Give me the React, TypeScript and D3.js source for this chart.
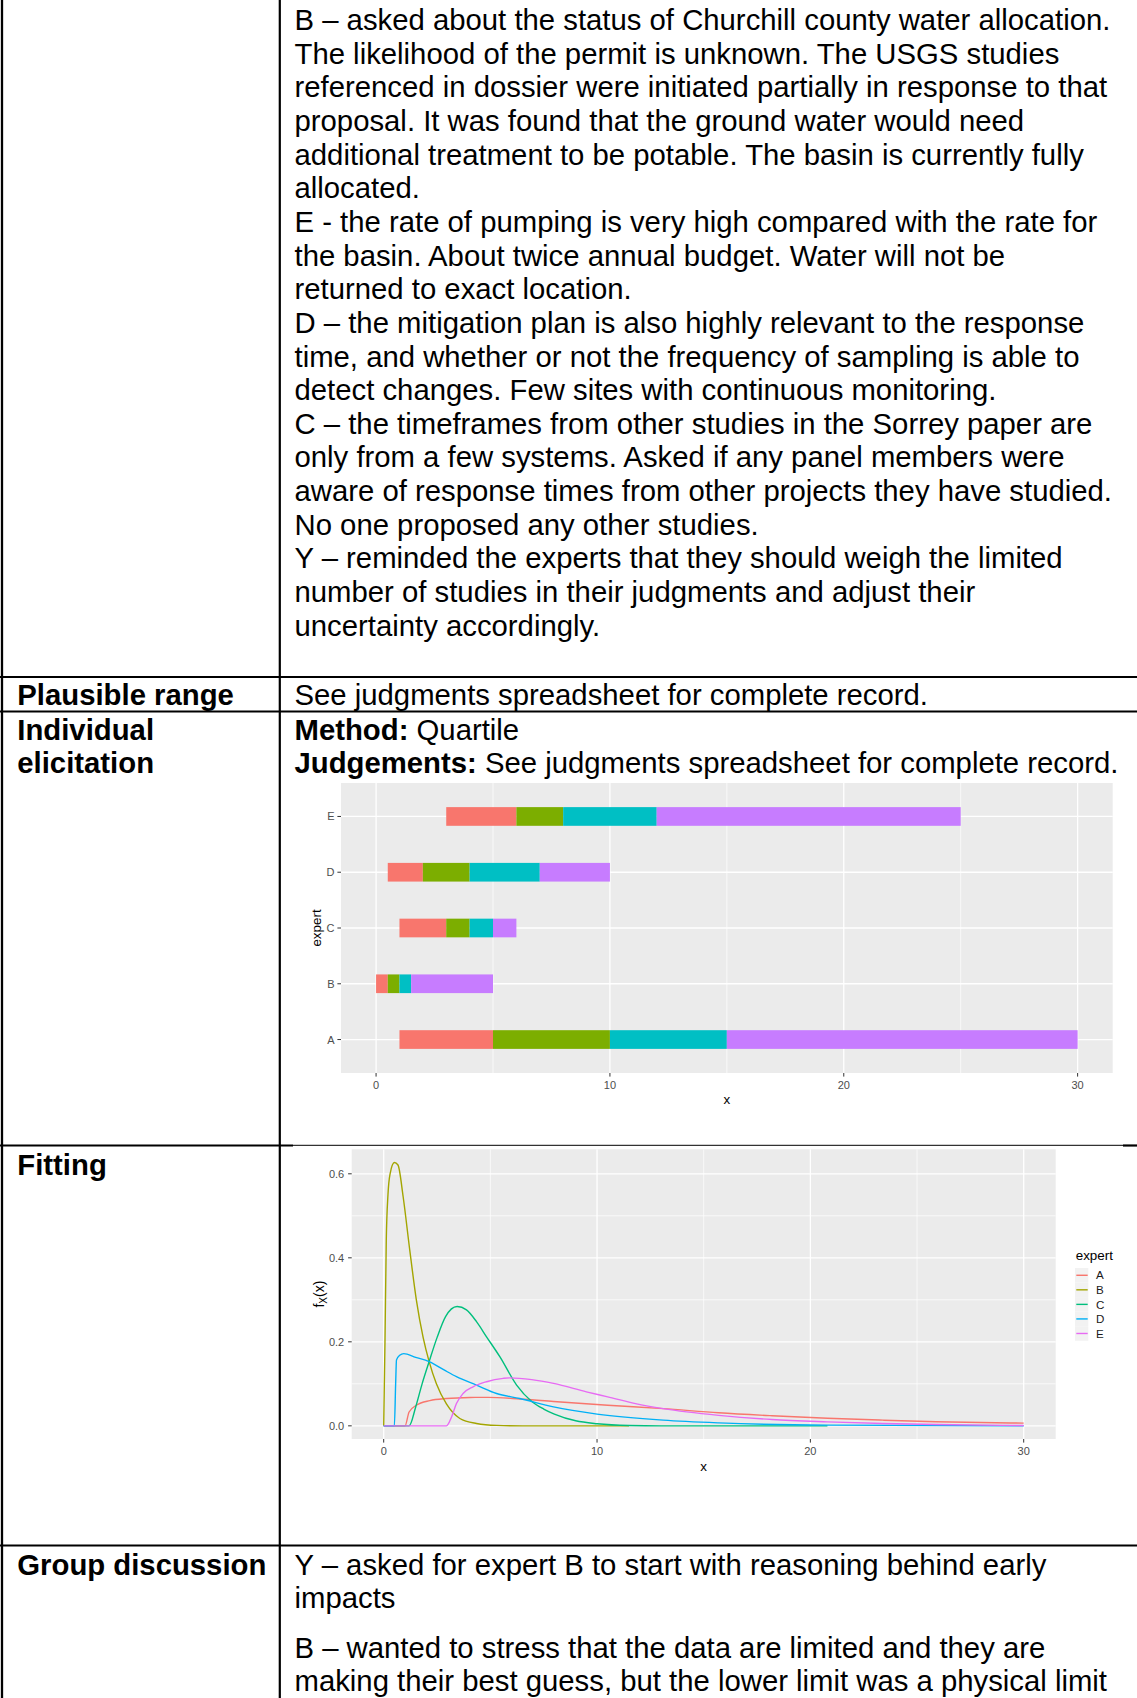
import React from "react";
import * as d3 from "d3";

// ---- Elicitation judgements (quartile method), one entry per expert ----
const experts = ["A", "B", "C", "D", "E"];
const lowerLimit = [1, 0, 1, 0.5, 3];
const lowerQuartile = [5, 0.5, 3, 2, 6];
const medianValue = [10, 1, 4, 4, 8];
const upperQuartile = [15, 1.5, 5, 7, 12];
const upperLimit = [30, 5, 6, 10, 25];

const intervalColors = ["#F8766D", "#7CAE00", "#00BFC4", "#C77CFF"];
const expertColors = ["#F8766D", "#A3A500", "#00BF7D", "#00B0F6", "#E76BF3"];

const xTicks = [0, 10, 20, 30];
const xMinorTicks = [5, 15, 25];
const densityTicks = [0, 0.2, 0.4, 0.6];
const densityMinorTicks = [0.1, 0.3, 0.5];

// ---- Fitted densities f_X(x), sampled as [x, density] ----
const densityA: [number, number][] = [
  [0, 0], [1.0, 0], [1.19, 0.033], [1.53, 0.049], [2.16, 0.06], [2.94, 0.065],
  [4.04, 0.0675], [4.9, 0.0678], [6.38, 0.064], [7.96, 0.058], [10.5, 0.049],
  [13.1, 0.041], [15.7, 0.031], [18.2, 0.024], [20.8, 0.018], [23.4, 0.0135],
  [25.9, 0.0098], [30, 0.0064],
];
const densityB: [number, number][] = [
  [0, 0], [0.06, 0.2], [0.12, 0.44], [0.2, 0.55], [0.3, 0.6], [0.5, 0.627],
  [0.67, 0.621], [0.91, 0.546], [1.22, 0.419], [1.53, 0.3], [1.85, 0.21],
  [2.13, 0.153], [2.47, 0.1], [2.94, 0.052], [3.57, 0.0175], [4.35, 0.0056],
  [5.3, 0.001], [6.5, 0], [11.5, 0],
];
const densityC: [number, number][] = [
  [0, 0], [1.19, 0], [1.5, 0.045], [1.8, 0.1], [2.13, 0.153], [2.5, 0.21],
  [2.9, 0.26], [3.44, 0.284], [3.88, 0.276], [4.35, 0.248], [4.82, 0.212],
  [5.45, 0.164], [6.23, 0.097], [6.94, 0.058], [7.5, 0.04], [8.0, 0.028],
  [9.0, 0.012], [10.0, 0.005], [11.5, 0.0008], [13, 0], [20.8, 0],
];
const densityD: [number, number][] = [
  [0, 0], [0.5, 0], [0.56, 0.1], [0.6, 0.157], [0.75, 0.168], [0.94, 0.172],
  [1.5, 0.163], [2.13, 0.153], [2.83, 0.133], [3.41, 0.117], [4.35, 0.097],
  [5.29, 0.077], [6.38, 0.065], [7.96, 0.045], [10.0, 0.028], [13.1, 0.0135],
  [15.7, 0.007], [20.8, 0.0016], [30, 0],
];
const densityE: [number, number][] = [
  [0, 0], [2.94, 0], [3.18, 0.021], [3.41, 0.053], [3.72, 0.077], [4.19, 0.093],
  [4.82, 0.105], [5.6, 0.113], [5.9, 0.1142], [6.94, 0.11], [7.96, 0.101],
  [9.5, 0.081], [10.5, 0.069], [11.8, 0.053], [13.1, 0.041], [15.7, 0.025],
  [18.2, 0.015], [20.8, 0.0095], [23.4, 0.0056], [25.9, 0.003], [30, 0.0008],
];
const densities = [densityA, densityB, densityC, densityD, densityE];

// ---- Record text ----
const notesLines = [
  "B – asked about the status of Churchill county water allocation.",
  "The likelihood of the permit is unknown. The USGS studies",
  "referenced in dossier were initiated partially in response to that",
  "proposal. It was found that the ground water would need",
  "additional treatment to be potable. The basin is currently fully",
  "allocated.",
  "E - the rate of pumping is very high compared with the rate for",
  "the basin. About twice annual budget. Water will not be",
  "returned to exact location.",
  "D – the mitigation plan is also highly relevant to the response",
  "time, and whether or not the frequency of sampling is able to",
  "detect changes. Few sites with continuous monitoring.",
  "C – the timeframes from other studies in the Sorrey paper are",
  "only from a few systems. Asked if any panel members were",
  "aware of response times from other projects they have studied.",
  "No one proposed any other studies.",
  "Y – reminded the experts that they should weigh the limited",
  "number of studies in their judgments and adjust their",
  "uncertainty accordingly.",
];
const discussionFirst = [
  "Y – asked for expert B to start with reasoning behind early",
  "impacts",
];
const discussionSecond = [
  "B – wanted to stress that the data are limited and they are",
  "making their best guess, but the lower limit was a physical limit",
];

const FONT = "'Liberation Sans', Arial, Helvetica, sans-serif";
const BODY = 29.3;
const LINE = 33.65;
const LEFT_X = 17.3;
const RIGHT_X = 294.5;
const GREY_TEXT = "#4D4D4D";
const PANEL = "#EBEBEB";
const TICK_SIZE = 11;
const TITLE_SIZE = 13.4;

function TableFrame() {
  const W = 1137;
  return (
    <g stroke="#000">
      <line x1={2} x2={2} y1={0} y2={1698} strokeWidth={2.3} />
      <line x1={279.8} x2={279.8} y1={0} y2={1698} strokeWidth={2.2} />
      <line x1={0} x2={W} y1={677} y2={677} strokeWidth={2.2} />
      <line x1={0} x2={W} y1={711.5} y2={711.5} strokeWidth={2.2} />
      <line x1={0} x2={293} y1={1145.5} y2={1145.5} strokeWidth={2.2} />
      <line x1={293} x2={1123} y1={1145.3} y2={1145.3} strokeWidth={1} />
      <line x1={1123} x2={W} y1={1145.5} y2={1145.5} strokeWidth={2.2} />
      <line x1={0} x2={W} y1={1545.5} y2={1545.5} strokeWidth={2.2} />
    </g>
  );
}

function QuartileChart() {
  const all = [...lowerLimit, ...upperLimit];
  const [lo, hi] = d3.extent(all) as [number, number];
  const pad = (hi - lo) * 0.05;
  const x = d3.scaleLinear().domain([lo - pad, hi + pad]).range([341, 1112.7]);
  const y = d3.scaleLinear().domain([0.4, experts.length + 0.6]).range([1073, 783]);
  const barH = 0.335 * (y(0) - y(1));
  const [px0, px1] = x.range();
  const [py0, py1] = y.range();

  return (
    <g fontFamily={FONT}>
      <rect x={px0} y={py1} width={px1 - px0} height={py0 - py1} fill={PANEL} />
      {xMinorTicks.map((t) => (
        <line key={"m" + t} x1={x(t)} x2={x(t)} y1={py1} y2={py0} stroke="#fff" strokeWidth={0.7} />
      ))}
      {xTicks.map((t) => (
        <line key={"g" + t} x1={x(t)} x2={x(t)} y1={py1} y2={py0} stroke="#fff" strokeWidth={1.3} />
      ))}
      {experts.map((e, i) => (
        <line key={"h" + e} x1={px0} x2={px1} y1={y(i + 1)} y2={y(i + 1)} stroke="#fff" strokeWidth={1.3} />
      ))}
      {experts.map((e, i) => {
        const bounds = [lowerLimit[i], lowerQuartile[i], medianValue[i], upperQuartile[i], upperLimit[i]];
        return (
          <g key={"bar" + e}>
            {intervalColors.map((c, j) => (
              <rect
                key={j}
                x={x(bounds[j])}
                width={x(bounds[j + 1]) - x(bounds[j])}
                y={y(i + 1) - barH / 2}
                height={barH}
                fill={c}
              />
            ))}
          </g>
        );
      })}
      {experts.map((e, i) => (
        <g key={"yt" + e}>
          <line x1={px0 - 3.6} x2={px0} y1={y(i + 1)} y2={y(i + 1)} stroke="#333" strokeWidth={1} />
          <text x={px0 - 6.5} y={y(i + 1) + 4} textAnchor="end" fontSize={TICK_SIZE} fill={GREY_TEXT}>
            {e}
          </text>
        </g>
      ))}
      {xTicks.map((t) => (
        <g key={"xt" + t}>
          <line x1={x(t)} x2={x(t)} y1={py0} y2={py0 + 3.6} stroke="#333" strokeWidth={1} />
          <text x={x(t)} y={py0 + 15.5} textAnchor="middle" fontSize={TICK_SIZE} fill={GREY_TEXT}>
            {t}
          </text>
        </g>
      ))}
      <text x={(px0 + px1) / 2} y={1104} textAnchor="middle" fontSize={TITLE_SIZE} fill="#000">
        x
      </text>
      <text
        transform={`translate(320.5, ${(py0 + py1) / 2}) rotate(-90)`}
        textAnchor="middle"
        fontSize={TITLE_SIZE}
        fill="#000"
      >
        expert
      </text>
    </g>
  );
}

function DensityChart() {
  const xs = densities.flat().map((d) => d[0]);
  const ys = densities.flat().map((d) => d[1]);
  const [lo, hi] = d3.extent(xs) as [number, number];
  const padX = (hi - lo) * 0.05;
  const yMax = d3.max(ys) as number;
  const x = d3.scaleLinear().domain([lo - padX, hi + padX]).range([351.7, 1055.7]);
  const y = d3.scaleLinear().domain([-0.05 * yMax, 1.05 * yMax]).range([1439, 1149.3]);
  const [px0, px1] = x.range();
  const [py0, py1] = y.range();
  const line = d3
    .line<[number, number]>()
    .x((d) => x(d[0]))
    .y((d) => y(d[1]))
    .curve(d3.curveMonotoneX);
  const fmt = d3.format(".1f");

  const keyTop = 1268;
  const keyH = 14.55;

  return (
    <g fontFamily={FONT}>
      <rect x={px0} y={py1} width={px1 - px0} height={py0 - py1} fill={PANEL} />
      {xMinorTicks.map((t) => (
        <line key={"mx" + t} x1={x(t)} x2={x(t)} y1={py1} y2={py0} stroke="#fff" strokeWidth={0.7} />
      ))}
      {densityMinorTicks.map((t) => (
        <line key={"my" + t} x1={px0} x2={px1} y1={y(t)} y2={y(t)} stroke="#fff" strokeWidth={0.7} />
      ))}
      {xTicks.map((t) => (
        <line key={"gx" + t} x1={x(t)} x2={x(t)} y1={py1} y2={py0} stroke="#fff" strokeWidth={1.3} />
      ))}
      {densityTicks.map((t) => (
        <line key={"gy" + t} x1={px0} x2={px1} y1={y(t)} y2={y(t)} stroke="#fff" strokeWidth={1.3} />
      ))}
      {densities.map((d, i) => (
        <path
          key={"c" + experts[i]}
          d={line(d) ?? ""}
          fill="none"
          stroke={expertColors[i]}
          strokeWidth={1.4}
          strokeLinejoin="round"
        />
      ))}
      {densityTicks.map((t) => (
        <g key={"yt" + t}>
          <line x1={px0 - 3.6} x2={px0} y1={y(t)} y2={y(t)} stroke="#333" strokeWidth={1} />
          <text x={px0 - 7.5} y={y(t) + 4} textAnchor="end" fontSize={TICK_SIZE} fill={GREY_TEXT}>
            {fmt(t)}
          </text>
        </g>
      ))}
      {xTicks.map((t) => (
        <g key={"xt" + t}>
          <line x1={x(t)} x2={x(t)} y1={py0} y2={py0 + 3.6} stroke="#333" strokeWidth={1} />
          <text x={x(t)} y={py0 + 16} textAnchor="middle" fontSize={TICK_SIZE} fill={GREY_TEXT}>
            {t}
          </text>
        </g>
      ))}
      <text x={(px0 + px1) / 2} y={1471} textAnchor="middle" fontSize={TITLE_SIZE} fill="#000">
        x
      </text>
      <text
        transform={`translate(324, ${(py0 + py1) / 2}) rotate(-90)`}
        textAnchor="middle"
        fontSize={TITLE_SIZE + 0.6}
        fill="#000"
      >
        f
        <tspan fontSize={10} dy={3}>
          X
        </tspan>
        <tspan dy={-3}>(x)</tspan>
      </text>
      <text x={1075.7} y={1260} fontSize={TITLE_SIZE} fill="#000">
        expert
      </text>
      {experts.map((e, i) => {
        const cy = keyTop + keyH * i + keyH / 2;
        return (
          <g key={"lg" + e}>
            <rect x={1075} y={keyTop + keyH * i} width={13.3} height={keyH} fill="#F2F2F2" />
            <line x1={1076.3} x2={1087.7} y1={cy} y2={cy} stroke={expertColors[i]} strokeWidth={1.4} />
            <text x={1096} y={cy + 4.2} fontSize={11.6} fill="#1A1A1A">
              {e}
            </text>
          </g>
        );
      })}
    </g>
  );
}

function TableText() {
  const firstBase = 30;
  return (
    <g fontFamily={FONT} fontSize={BODY} fill="#000">
      {notesLines.map((t, i) => (
        <text key={"n" + i} x={RIGHT_X} y={firstBase + i * LINE}>
          {t}
        </text>
      ))}

      <text x={LEFT_X} y={705.3} fontWeight="bold">Plausible range</text>
      <text x={RIGHT_X} y={705.3}>See judgments spreadsheet for complete record.</text>

      <text x={LEFT_X} y={739.5} fontWeight="bold">Individual</text>
      <text x={LEFT_X} y={739.5 + LINE} fontWeight="bold">elicitation</text>
      <text x={RIGHT_X} y={739.5}>
        <tspan fontWeight="bold">Method:</tspan> Quartile
      </text>
      <text x={RIGHT_X} y={739.5 + LINE}>
        <tspan fontWeight="bold">Judgements:</tspan> See judgments spreadsheet for complete record.
      </text>

      <text x={LEFT_X} y={1174.5} fontWeight="bold">Fitting</text>

      <text x={LEFT_X} y={1574.5} fontWeight="bold">Group discussion</text>
      {discussionFirst.map((t, i) => (
        <text key={"d1" + i} x={RIGHT_X} y={1574.5 + i * LINE}>
          {t}
        </text>
      ))}
      {discussionSecond.map((t, i) => (
        <text key={"d2" + i} x={RIGHT_X} y={1657.8 + i * LINE}>
          {t}
        </text>
      ))}
    </g>
  );
}

export default function App() {
  return (
    <svg
      width={1137}
      height={1698}
      viewBox="0 0 1137 1698"
      style={{ position: "absolute", left: 0, top: 0, display: "block", background: "#fff" }}
    >
      <rect x={0} y={0} width={1137} height={1698} fill="#fff" />
      <QuartileChart />
      <DensityChart />
      <TableText />
      <TableFrame />
    </svg>
  );
}
